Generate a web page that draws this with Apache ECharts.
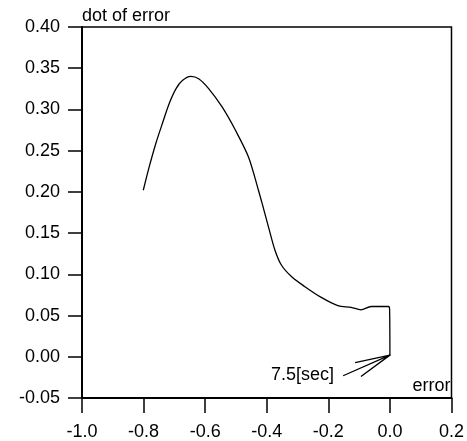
<!DOCTYPE html>
<html>
<head>
<meta charset="utf-8">
<script src="https://cdn.jsdelivr.net/npm/echarts@6/dist/echarts.min.js"></script>
<style>html,body{margin:0;padding:0;background:#fff}#c{width:467px;height:441px}</style>
</head>
<body>
<div id="c"></div>
<script>
// Data
var errorX = [-0.801,-0.782,-0.760,-0.739,-0.717,-0.695,-0.674,-0.647,-0.620,-0.588,-0.545,-0.502,-0.459,-0.427,-0.415,-0.394,-0.373,-0.352,-0.319,-0.276,-0.223,-0.169,-0.126,-0.094,-0.061,-0.030,-0.005,-0.001,0.0];
var dotErrorY = [0.202,0.230,0.259,0.283,0.307,0.325,0.335,0.340,0.337,0.325,0.303,0.275,0.242,0.202,0.186,0.157,0.129,0.111,0.097,0.085,0.072,0.062,0.060,0.057,0.061,0.061,0.061,0.058,0.001];
var arrowX = [-0.152, 0.0, -0.113, 0.0, -0.094];
var arrowY = [-0.023, 0.002, -0.007, 0.002, -0.024];
var annotationText = '7.5[sec]';
var annotationPos = [-0.284, -0.022];
var xTicks = {min: -1.0, max: 0.2, interval: 0.2};
var yTicks = {min: -0.05, max: 0.40, interval: 0.05};
var xName = 'error';
var yName = 'dot of error';

var FONT = '"Liberation Sans", Arial, sans-serif';
function zip(a, b) { return a.map(function (v, i) { return [v, b[i]]; }); }

var chart = echarts.init(document.getElementById('c'));
chart.setOption({
  animation: false,
  backgroundColor: '#fff',
  grid: {left: 82, right: 13, top: 27, bottom: 43, show: true, borderColor: '#000', borderWidth: 1.5},
  xAxis: {
    type: 'value', min: xTicks.min, max: xTicks.max, interval: xTicks.interval,
    name: xName, nameLocation: 'end', nameGap: -1,
    nameTextStyle: {fontFamily: FONT, fontSize: 18, color: '#000', align: 'right', verticalAlign: 'bottom', padding: [0, 0, 3, 0]},
    axisLine: {show: true, onZero: false, lineStyle: {color: '#000', width: 2}},
    axisTick: {show: true, inside: false, length: 15, lineStyle: {color: '#000', width: 1.5}},
    axisLabel: {fontFamily: FONT, fontSize: 18, color: '#000', margin: 25, formatter: function (v) { return v.toFixed(1); }},
    splitLine: {show: false}
  },
  yAxis: {
    type: 'value', min: yTicks.min, max: yTicks.max, interval: yTicks.interval,
    name: yName, nameLocation: 'end', nameGap: 2,
    nameTextStyle: {fontFamily: FONT, fontSize: 18, color: '#000', align: 'left', verticalAlign: 'bottom'},
    axisLine: {show: true, onZero: false, lineStyle: {color: '#000', width: 2}},
    axisTick: {show: true, inside: false, length: 14, lineStyle: {color: '#000', width: 1.5}},
    axisLabel: {fontFamily: FONT, fontSize: 18, color: '#000', margin: 22, formatter: function (v) { return v.toFixed(2); }},
    splitLine: {show: false}
  },
  series: [
    {
      type: 'line', data: zip(errorX, dotErrorY), showSymbol: false, smooth: 0.3,
      lineStyle: {color: '#000', width: 1.3}
    },
    {
      type: 'line', data: zip(arrowX, arrowY), showSymbol: false,
      lineStyle: {color: '#000', width: 1.3}
    },
    {
      type: 'scatter', data: [annotationPos], symbolSize: 0, silent: true,
      itemStyle: {opacity: 1, color: '#000'},
      label: {show: true, position: 'inside', formatter: annotationText, fontFamily: FONT, fontSize: 18, color: '#000', opacity: 1, textBorderWidth: 0}
    }
  ]
});
</script>
</body>
</html>
